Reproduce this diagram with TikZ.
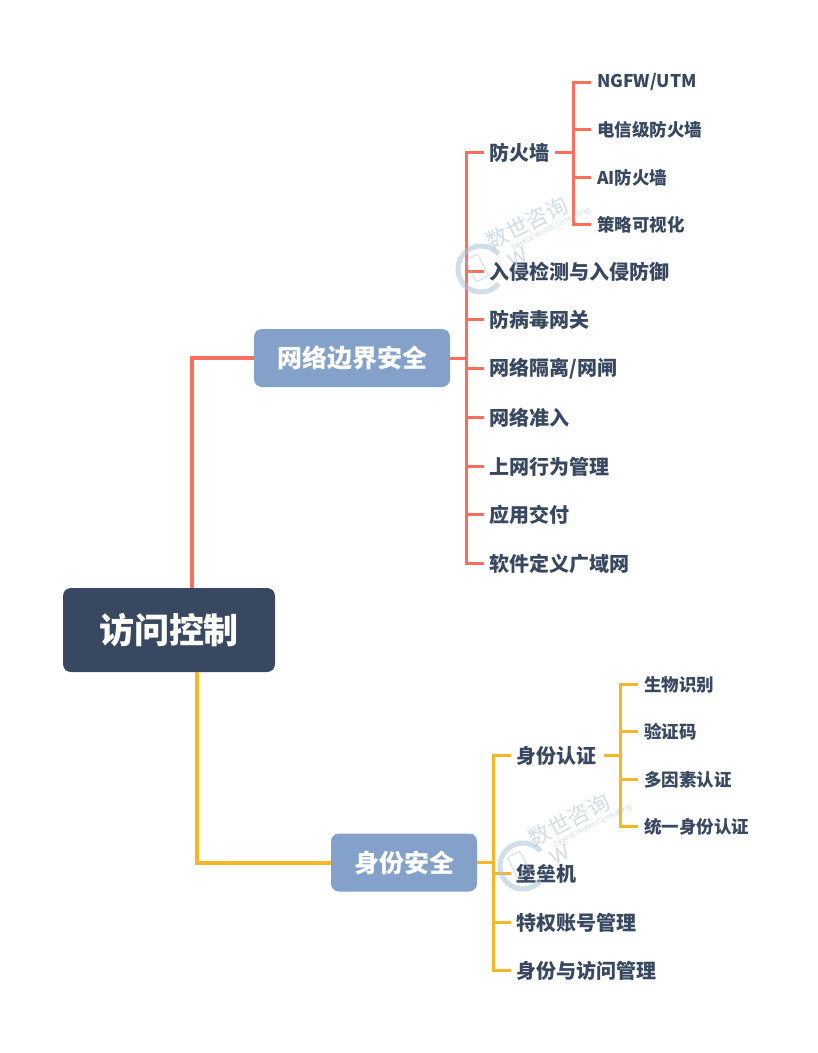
\documentclass[tikz,border=0pt]{standalone}
\usepackage{fontspec}
\setmainfont{Poppins}
\newfontfamily\cjk{Noto Sans CJK SC}
\usepackage{tikz}
\usetikzlibrary{positioning}

\definecolor{rootblue}{HTML}{384860}
\definecolor{boxblue}{HTML}{84A1CA}
\definecolor{redline}{HTML}{F8705D}
\definecolor{yellowline}{HTML}{F8B525}
\definecolor{wmblue}{HTML}{A9C3D8}

\tikzset{
    rootbox/.style={fill=rootblue,rounded corners=8pt,text=white,minimum width=212pt,minimum height=84pt,font=\fontsize{35}{35}\cjk\bfseries},
    topicbox/.style={fill=boxblue,rounded corners=8pt,text=white,minimum height=58pt,font=\fontsize{25}{25}\cjk\bfseries},
    midlabel/.style={anchor=west,inner sep=0pt,text=rootblue,font=\fontsize{20}{20}\cjk\bfseries},
    leaflabel/.style={anchor=west,inner sep=0pt,text=rootblue,font=\fontsize{17.5}{18}\cjk\bfseries},
    mainline/.style={line width=4pt},
    subline/.style={line width=3pt},
    wmtext/.style={text=wmblue,opacity=0.55,rotate=27,inner sep=0pt}
}

\begin{document}
\begin{tikzpicture}[x=1pt,y=-1pt]
\useasboundingbox[fill=white] (0,0) rectangle (818,1053);

% Root and the two topic boxes
\node[rootbox] (root) at (169,630) {访问控制};
\node[topicbox,minimum width=196pt] (net) at (352,358) {网络边界安全};
\node[topicbox,minimum width=146pt] (idn) at (404,862.5) {身份安全};

% Red side
\coordinate (rootup) at (192,588);
\draw[redline,mainline] (rootup) |- (net.west);

\node[midlabel] (fw) at (489.5,152.7) {防火墙};
\coordinate (netbus) at (466,358);
\draw[redline,subline] (net.east) -- (netbus);
\foreach \i/\yy/\txt in {1/271.7/入侵检测与入侵防御,2/319.7/防病毒网关,3/368.7/{网络隔离/网闸},4/417.7/网络准入,5/466.7/上网行为管理,6/514.7/应用交付,7/563.7/软件定义广域网} {
    \node[midlabel] (net\i) at (489.5,\yy) {\txt};
    \draw[redline,subline] (netbus) |- ([xshift=-6pt]net\i.west);
}
\draw[redline,subline] (netbus) |- ([xshift=-6pt]fw.west);

% Firewall leaves
\coordinate[right=24pt of fw.east] (fwbus);
\draw[redline,subline] ([xshift=5pt]fw.east) -- (fwbus);
\foreach \i/\yy/\txt in {1/82.4/{NGFW/UTM},2/129.7/{\cjk 电信级防火墙},3/177.7/{AI\cjk 防火墙},4/224.7/{\cjk 策略可视化}} {
    \node[leaflabel] (fw\i) at (597,\yy) {\txt};
    \draw[redline,subline] (fwbus) |- ([xshift=-6pt]fw\i.west);
}

% Yellow side
\coordinate (rootdown) at (197,672);
\draw[yellowline,mainline] (rootdown) |- (idn.west);

\node[midlabel] (auth) at (516.5,755.7) {身份认证};
\coordinate (idnbus) at (493,862.5);
\draw[yellowline,subline] (idn.east) -- (idnbus);
\draw[yellowline,subline] (idnbus) |- ([xshift=-6pt]auth.west);
\foreach \i/\yy/\txt in {1/873.7/堡垒机,2/922.7/特权账号管理,3/970.7/身份与访问管理} {
    \node[midlabel] (idn\i) at (516.5,\yy) {\txt};
    \draw[yellowline,subline] (idnbus) |- ([xshift=-6pt]idn\i.west);
}

% Auth leaves
\coordinate[right=24pt of auth.east] (authbus);
\draw[yellowline,subline] ([xshift=7pt]auth.east) -- (authbus);
\foreach \i/\yy/\txt in {1/684.5/生物识别,2/731.5/验证码,3/779.5/多因素认证,4/826.5/统一身份认证} {
    \node[leaflabel] (auth\i) at (644,\yy) {\cjk \txt};
    \draw[yellowline,subline] (authbus) |- ([xshift=-6pt]auth\i.west);
}

% Watermarks
\foreach \wx/\wy/\wn in {0/0/a,42/597/b} {
    \node[wmtext,font=\fontsize{22}{22}\cjk] (wm\wn) at (527+\wx,223+\wy) {数世咨询};
    \node[wmtext,font=\fontsize{7.2}{8}\selectfont] (wmsub\wn) at (551+\wx,229+\wy) {Digital World Consulting};
    \node[wmtext,font=\fontsize{20}{20}\selectfont] (wmw\wn) at (518+\wx,258+\wy) {W};
    \draw[wmblue,line width=5pt,opacity=0.55] (498.6+\wx,254.2+\wy) arc[start angle=40,end angle=320,radius=23pt];
    \draw[wmblue,line width=1.5pt,opacity=0.4,rounded corners=2pt,rotate around={27:(477+\wx,268+\wy)}] (470+\wx,256+\wy) rectangle (484+\wx,280+\wy);
}
\end{tikzpicture}
\end{document}
